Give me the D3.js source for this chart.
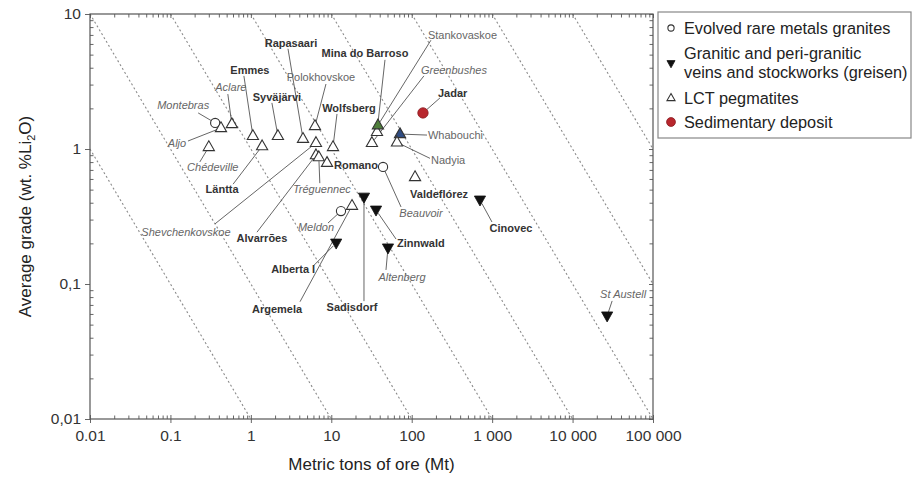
<!DOCTYPE html>
<html><head><meta charset="utf-8">
<script src="https://cdn.jsdelivr.net/npm/d3@7"></script>
<style>
body{margin:0;background:#fff;}
svg{display:block;font-family:"Liberation Sans",Arial,Helvetica,sans-serif;}
</style></head><body>
<svg id="chart" width="914" height="495"></svg>
<script>
// ---------------- DATA ----------------
const depositNames = ["Montebras","Beauvoir","Meldon",
  "Cinovec","St Austell","Sadisdorf","Zinnwald","Altenberg","Alberta I",
  "Aljo","Chédeville","Aclare","Emmes","Läntta","Syväjärvi","Rapasaari","Polokhovskoe",
  "Shevchenkovskoe","Alvarrões","Tréguennec","Romano","Wolfsberg","Greenbushes","Mina do Barroso",
  "Stankovaskoe","Whabouchi","Nadyia","Valdeflórez","Argemela",
  "Jadar"];
const depositTypes = ["granite","granite","granite",
  "vein","vein","vein","vein","vein","vein",
  "pegmatite","pegmatite","pegmatite","pegmatite","pegmatite","pegmatite","pegmatite","pegmatite",
  "pegmatite","pegmatite","pegmatite","pegmatite","pegmatite","pegmatite","pegmatite",
  "pegmatite","pegmatite","pegmatite","pegmatite","pegmatite",
  "sedimentary"];
const tonnageMt = [0.36, 44, 13.2,
  706, 26900, 25.5, 36, 50.7, 11.5,
  0.425, 0.30, 0.58, 1.06, 1.38, 2.17, 4.45, 6.27,
  6.45, 6.45, 7.0, 8.85, 10.5, 32, 37,
  38, 71.5, 65.6, 110, 18.1,
  138];
const gradeLi2O = [1.56, 0.736, 0.347,
  0.419, 0.058, 0.44, 0.353, 0.185, 0.201,
  1.43, 1.035, 1.53, 1.25, 1.05, 1.25, 1.19, 1.48,
  1.11, 0.90, 0.87, 0.79, 1.035, 1.11, 1.34,
  1.50, 1.29, 1.12, 0.62, 0.38,
  1.85];

const legendLabels = ["Evolved rare metals granites",
  ["Granitic and peri-granitic","veins and stockworks (greisen)"],
  "LCT pegmatites","Sedimentary deposit"];
const legendTypes = ["granite","vein","pegmatite","sedimentary"];

const xTickVals = [0.01,0.1,1,10,100,1000,10000,100000];
const xTickLabels = ["0.01","0.1","1","10","100","1 000","10 000","100 000"];
const yTickVals = [0.01,0.1,1,10];
const yTickLabels = ["0,01","0,1","1","10"];
// contained Li2O iso-lines (tonnage x grade = constant)
const isoProducts = [0.01,0.1,1,10,100,1000,10000,100000];

const xTitle = "Metric tons of ore (Mt)";

// ---------------- LAYOUT (label placement, px offsets from marker) ----------------
// [dx, dy, anchor, leaderX, leaderY]  (leader null = no leader line)
const labelLayout = {
  "Montebras":[-32,-14,"middle",-17,-10],
  "Beauvoir":[38,50,"middle",18,40],
  "Meldon":[-25,20,"middle",-13,12],
  "Cinovec":[31,32,"middle",12,22],
  "St Austell":[16,-18,"middle",5,-15],
  "Sadisdorf":[-12,114,"middle",0,104],
  "Zinnwald":[21,37,"start",20,29],
  "Altenberg":[14,33,"middle",-2,22],
  "Alberta I":[-43,30,"middle",-23,23],
  "Aljo":[-44,19,"middle",-33,13],
  "Chédeville":[4,24,"middle",-9,15],
  "Aclare":[-1,-33,"middle",-4,-30],
  "Emmes":[-3,-62,"middle",-9,-60],
  "Läntta":[-40,47,"middle",-29,38],
  "Syväjärvi":[-1,-35,"middle",-6,-33],
  "Rapasaari":[-12,-92,"middle",-15,-90],
  "Polokhovskoe":[6,-45,"middle",11,-42],
  "Shevchenkovskoe":[-130,93,"middle",-101,81],
  "Alvarrões":[-54,87,"middle",-59,77],
  "Tréguennec":[3,36,"middle",1,26],
  "Romano":[7,6,"start",null,null],
  "Wolfsberg":[16,-35,"middle",4,-33],
  "Greenbushes":[49,-69,"start",52,-67],
  "Mina do Barroso":[-12,-75,"middle",8,-72],
  "Stankovaskoe":[50,-86,"start",53,-85],
  "Whabouchi":[28,5,"start",27,1],
  "Nadyia":[34,22,"start",33,16],
  "Valdeflórez":[-5,21,"start",null,null],
  "Argemela":[-75,107,"middle",-52,96],
  "Jadar":[15,-16,"start",17,-15]
};
const boldLabels = new Set(["Emmes","Läntta","Syväjärvi","Rapasaari","Alvarrões","Romano","Wolfsberg",
  "Mina do Barroso","Valdeflórez","Argemela","Jadar","Cinovec","Sadisdorf","Zinnwald","Alberta I"]);
const italicLabels = new Set(["Montebras","Aljo","Chédeville","Aclare","Shevchenkovskoe","Tréguennec",
  "Greenbushes","Beauvoir","Meldon","St Austell","Altenberg"]);
const fillOverride = {"Stankovaskoe":"#4e7d3a","Whabouchi":"#2f4c82"};

// ---------------- CHART ----------------
const svg = d3.select("#chart");
svg.append("rect").attr("width",914).attr("height",495).attr("fill","#fff");
const L=90,R=653,T=14,B=419;
const x = d3.scaleLog().domain([0.01,1e5]).range([L,R]);
const y = d3.scaleLog().domain([0.01,10]).range([B,T]);

function minorTicks(lo,hi){
  const r=[];
  for(let e=Math.round(Math.log10(lo)); e<Math.round(Math.log10(hi)); e++)
    for(let k=2;k<=9;k++) r.push(k*Math.pow(10,e));
  return r;
}
const xMinor = minorTicks(0.01,1e5), yMinor = minorTicks(0.01,10);

// iso-lines
const isoG = svg.append("g");
isoProducts.forEach(P=>{
  const x1=Math.max(0.01,P/10), x2=Math.min(1e5,P/0.01);
  isoG.append("line")
    .attr("x1",x(x1)).attr("y1",y(P/x1))
    .attr("x2",x(x2)).attr("y2",y(P/x2))
    .attr("stroke","#8a8a8a").attr("stroke-width",1.1)
    .attr("stroke-dasharray","2,2.5");
});

// axes
const axisColor="#666";
function styleAxis(g){
  g.selectAll(".domain").remove();
  g.selectAll("line").attr("stroke",axisColor);
  g.selectAll("text").attr("fill","#333").attr("font-size",15.5)
   .attr("font-family","'Liberation Sans',Arial,sans-serif");
}
const fx = d=>xTickLabels[xTickVals.indexOf(d)];
const fy = d=>yTickLabels[yTickVals.indexOf(d)];
svg.append("g").attr("transform",`translate(0,${B})`)
  .call(d3.axisBottom(x).tickValues(xTickVals).tickFormat(fx).tickSize(4).tickPadding(7)).call(styleAxis);
svg.append("g").attr("transform",`translate(0,${B})`)
  .call(d3.axisBottom(x).tickValues(xTickVals).tickFormat("").tickSize(-4)).call(styleAxis);
svg.append("g").attr("transform",`translate(0,${B})`)
  .call(d3.axisBottom(x).tickValues(xMinor).tickFormat("").tickSize(-3.5)).call(styleAxis);
svg.append("g").attr("transform",`translate(0,${T})`)
  .call(d3.axisTop(x).tickValues(xTickVals).tickFormat("").tickSize(-4)).call(styleAxis);
svg.append("g").attr("transform",`translate(0,${T})`)
  .call(d3.axisTop(x).tickValues(xMinor).tickFormat("").tickSize(-3.5)).call(styleAxis);
svg.append("g").attr("transform",`translate(${L},0)`)
  .call(d3.axisLeft(y).tickValues(yTickVals).tickFormat(fy).tickSize(5).tickPadding(4)).call(styleAxis);
svg.append("g").attr("transform",`translate(${L},0)`)
  .call(d3.axisLeft(y).tickValues(yMinor).tickFormat("").tickSize(-3.5)).call(styleAxis);
svg.append("g").attr("transform",`translate(${R},0)`)
  .call(d3.axisRight(y).tickValues(yTickVals).tickFormat("").tickSize(-4)).call(styleAxis);
svg.append("g").attr("transform",`translate(${R},0)`)
  .call(d3.axisRight(y).tickValues(yMinor).tickFormat("").tickSize(-3.5)).call(styleAxis);
svg.append("rect").attr("x",L).attr("y",T).attr("width",R-L).attr("height",B-T)
  .attr("fill","none").attr("stroke","#555").attr("stroke-width",1.2);

// axis titles
svg.append("text").attr("x",(L+R)/2).attr("y",470).attr("text-anchor","middle")
  .attr("font-size",17).attr("fill","#222").text(xTitle);
const yt = svg.append("text").attr("transform",`translate(31,${(T+B)/2}) rotate(-90)`)
  .attr("text-anchor","middle").attr("font-size",17).attr("fill","#222");
yt.append("tspan").text("Average grade (wt. %Li");
yt.append("tspan").attr("font-size",11).attr("dy",4).text("2");
yt.append("tspan").attr("dy",-4).text("O)");

// markers
function markerPath(type,s){
  if(type==="pegmatite") return `M0,${-6.2*s}L${5.6*s},${3.6*s}L${-5.6*s},${3.6*s}Z`;
  if(type==="vein") return `M${-5.6*s},${-4*s}L${5.6*s},${-4*s}L0,${6*s}Z`;
  return null;
}
function drawMarker(g,type,px,py,s,fill){
  if(type==="granite"){
    g.append("circle").attr("cx",px).attr("cy",py).attr("r",4.6*s)
      .attr("fill","#fff").attr("stroke","#333").attr("stroke-width",1.1);
  } else if(type==="sedimentary"){
    g.append("circle").attr("cx",px).attr("cy",py).attr("r",5.2*s)
      .attr("fill","#b8262d").attr("stroke","#8a1d22").attr("stroke-width",0.8);
  } else if(type==="vein"){
    g.append("path").attr("d",markerPath(type,s)).attr("transform",`translate(${px},${py})`)
      .attr("fill","#111").attr("stroke","#111").attr("stroke-width",0.8);
  } else {
    g.append("path").attr("d",markerPath(type,s)).attr("transform",`translate(${px},${py})`)
      .attr("fill",fill||"#fff").attr("stroke","#333").attr("stroke-width",1.1);
  }
}

const leaderG = svg.append("g");
const markG = svg.append("g");
const labelG = svg.append("g");
depositNames.forEach((n,i)=>{
  const px=x(tonnageMt[i]), py=y(gradeLi2O[i]);
  const lay=labelLayout[n];
  if(lay && lay[3]!==null){
    const sx=px+lay[3], sy=py+lay[4];
    const dx=px-sx, dy=py-sy, len=Math.hypot(dx,dy), trim=Math.min(4,len);
    leaderG.append("line").attr("x1",sx).attr("y1",sy)
      .attr("x2",px-dx/len*trim).attr("y2",py-dy/len*trim)
      .attr("stroke","#555").attr("stroke-width",0.9);
  }
});
depositNames.forEach((n,i)=>{
  drawMarker(markG,depositTypes[i],x(tonnageMt[i]),y(gradeLi2O[i]),1,fillOverride[n]);
});
depositNames.forEach((n,i)=>{
  const px=x(tonnageMt[i]), py=y(gradeLi2O[i]);
  const lay=labelLayout[n];
  const t=labelG.append("text").attr("x",px+lay[0]).attr("y",py+lay[1])
    .attr("text-anchor",lay[2]).attr("font-size",11).text(n);
  if(boldLabels.has(n)) t.attr("font-weight","bold").attr("fill","#333");
  else if(italicLabels.has(n)) t.attr("font-style","italic").attr("fill","#666");
  else t.attr("fill","#666");
});

// legend
const lg = svg.append("g");
lg.append("rect").attr("x",658).attr("y",12).attr("width",253).attr("height",126)
  .attr("fill","#fff").attr("stroke","#888").attr("stroke-width",1.2);
const legendRows=[[28],[53,72],[98],[122]];
legendTypes.forEach((tp,i)=>{
  const rows=legendRows[i];
  const cy=rows.length>1?(rows[0]+rows[1])/2+1:rows[0];
  const s = tp==="granite"?0.68:(tp==="sedimentary"?0.85:0.72);
  drawMarker(lg,tp,671,cy,s);
  const labs = Array.isArray(legendLabels[i])?legendLabels[i]:[legendLabels[i]];
  labs.forEach((l,j)=>{
    lg.append("text").attr("x",684).attr("y",rows[j]).attr("dy","0.35em")
      .attr("font-size",16.3).attr("fill","#222").text(l);
  });
});
</script>
</body></html>
